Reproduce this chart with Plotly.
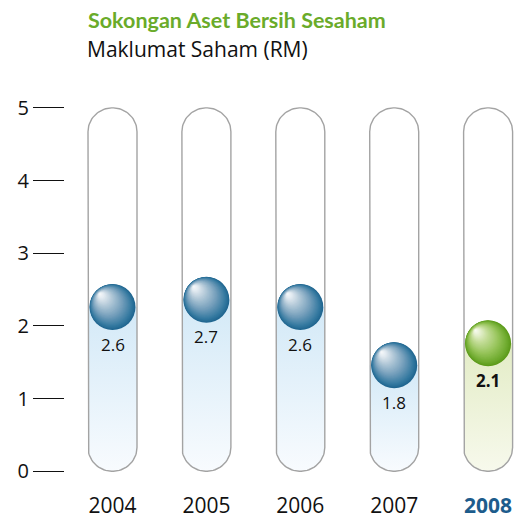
import plotly.graph_objects as go
import numpy as np

# ---- data ----
years = ["2004", "2005", "2006", "2007", "2008"]
values = [2.6, 2.7, 2.6, 1.8, 2.1]
value_labels = ["2.6", "2.7", "2.6", "1.8", "2.1"]
y_ticks = [0, 1, 2, 3, 4, 5]
title_text = "Sokongan Aset Bersih Sesaham"
subtitle_text = "Maklumat Saham (RM)"

# ---- layout geometry (pixels) ----
W, H = 522, 519
ML, MR, MT, MB = 65, 0, 80, 26
ZERO_PX = 481     # pixel row of y = 0
PXU_Y = 74.5      # pixels per y unit
PXU_X = 93.9      # pixels per category
plot_w = W - ML - MR
plot_h = H - MT - MB
y_lo = -((H - MB) - ZERO_PX) / PXU_Y
y_hi = y_lo + plot_h / PXU_Y
x_lo = -(112.5 - ML) / PXU_X
x_hi = x_lo + plot_w / PXU_X

TUBE_R = 24.5     # tube half-width in px
BALL_R = 23.0     # ball radius px
BALL_OFF = 0.34   # ball centre below value (y units)

hx = TUBE_R / PXU_X
hy = TUBE_R / PXU_Y


def tube_path(xc, ybot, ytop, round_top=True, n=40):
    xs, ys = [], []
    xs += [xc - hx]
    ys += [ytop if not round_top else ytop - hy]
    th = np.linspace(np.pi, 2 * np.pi, n)
    xs += list(xc + hx * np.cos(th))
    ys += list(ybot + hy + hy * np.sin(th))
    if round_top:
        th2 = np.linspace(0, np.pi, n)
        xs += list(xc + hx * np.cos(th2))
        ys += list(ytop - hy + hy * np.sin(th2))
    else:
        xs += [xc + hx, xc - hx]
        ys += [ytop, ytop]
    xs.append(xs[0])
    ys.append(ys[0])
    return xs, ys


fig = go.Figure()

blue_fill = [[0, "#f8fbfe"], [1, "#d3e9f7"]]
green_fill = [[0, "#f7f9ec"], [1, "#e3ecc6"]]

for i, v in enumerate(values):
    last = i == len(values) - 1
    xs, ys = tube_path(i, 0, v - BALL_OFF, round_top=False)
    fig.add_trace(go.Scatter(
        x=xs, y=ys, mode="lines", line=dict(width=0),
        fill="toself",
        fillgradient=dict(type="vertical",
                          colorscale=green_fill if last else blue_fill),
        hoverinfo="skip", showlegend=False))
    xs, ys = tube_path(i, 0, max(y_ticks), round_top=True)
    fig.add_trace(go.Scatter(
        x=xs, y=ys, mode="lines", line=dict(width=1.4, color="#a3a3a3"),
        hoverinfo="skip", showlegend=False))


def lerp_color(stops, t):
    for k in range(len(stops) - 1):
        t0, c0 = stops[k]
        t1, c1 = stops[k + 1]
        if t0 <= t <= t1:
            f = (t - t0) / (t1 - t0) if t1 > t0 else 0
            a = [int(c0[j:j + 2], 16) for j in (1, 3, 5)]
            b = [int(c1[j:j + 2], 16) for j in (1, 3, 5)]
            c = [round(a[m] + (b[m] - a[m]) * f) for m in range(3)]
            return "rgb(%d,%d,%d)" % tuple(c)
    return stops[-1][1]


blue_ball = [(0, "#206690"), (0.1, "#3479a0"), (0.35, "#729dba"),
             (0.65, "#b3c9d8"), (0.88, "#e5ecf2"), (1, "#fafbfc")]
green_ball = [(0, "#5c9a1a"), (0.1, "#6eaa2e"), (0.35, "#96c45a"),
              (0.65, "#c4dd99"), (0.88, "#eaf3d8"), (1, "#fcfdf8")]

shapes = []
N = 44
hxo, hyo = -0.56 * BALL_R, 0.58 * BALL_R
for i, v in enumerate(values):
    stops = green_ball if i == len(values) - 1 else blue_ball
    yc = v - BALL_OFF
    for k in range(N):
        t = k / N
        r = BALL_R * (1 - t)
        cx = hxo * t
        cy = hyo * t
        shapes.append(dict(
            type="circle", xref="x", yref="y",
            xsizemode="pixel", ysizemode="pixel",
            xanchor=i, yanchor=yc,
            x0=cx - r, x1=cx + r, y0=cy - r, y1=cy + r,
            fillcolor=lerp_color(stops, t), line=dict(width=0),
            layer="above"))

annotations = []
for i, (v, lab) in enumerate(zip(values, value_labels)):
    last = i == len(values) - 1
    annotations.append(dict(
        x=i, y=v - BALL_OFF, xref="x", yref="y", yshift=-37,
        text="<b>%s</b>" % lab if last else lab, showarrow=False,
        font=dict(size=17, color="#111111", family="Open Sans")))


def px_to_paper_y(py):
    return ((H - MB) - py) / plot_h


annotations.append(dict(
    xref="paper", yref="paper", x=(86 - ML) / plot_w, y=px_to_paper_y(19),
    xanchor="left", yanchor="middle", showarrow=False,
    text="<b>%s</b>" % title_text,
    font=dict(size=21.5, color="#6aab2a", family="Lato")))
annotations.append(dict(
    xref="paper", yref="paper", x=(85 - ML) / plot_w, y=px_to_paper_y(48),
    xanchor="left", yanchor="middle", showarrow=False,
    text=subtitle_text,
    font=dict(size=21, color="#111111", family="Open Sans")))

ticktext = [y if y != years[-1] else
            "<b><span style='color:#1d5c8c'>%s</span></b>" % y for y in years]

fig.update_layout(
    width=W, height=H, autosize=False,
    margin=dict(l=ML, r=MR, t=MT, b=MB, pad=0),
    paper_bgcolor="white", plot_bgcolor="white",
    shapes=shapes, annotations=annotations,
    xaxis=dict(range=[x_lo, x_hi], tickvals=list(range(len(years))),
               ticktext=ticktext, showgrid=False, zeroline=False,
               showline=False, ticks="", fixedrange=True,
               tickfont=dict(size=21, color="#111111", family="Open Sans"),
               ticklabelstandoff=8),
    yaxis=dict(range=[y_lo, y_hi], tickvals=y_ticks, showgrid=False,
               zeroline=False, showline=False, ticks="outside", ticklen=31,
               tickwidth=1.3, tickcolor="#111111", fixedrange=True,
               tickfont=dict(size=20, color="#111111", family="Open Sans"),
               ticklabelstandoff=0),
    font=dict(family="Open Sans"),
)

fig.write_html("out.html", config={"displayModeBar": False},
               post_script="document.body.style.margin='0';")
